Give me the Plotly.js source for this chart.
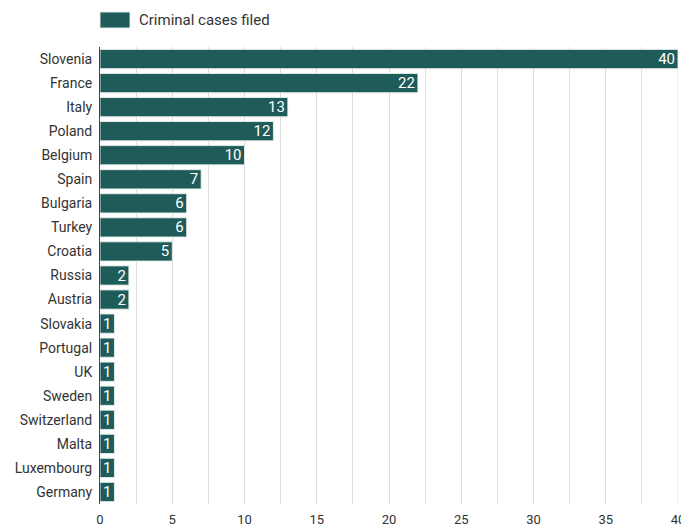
<!DOCTYPE html>
<html>
<head>
<meta charset="utf-8">
<script src="https://cdn.plot.ly/plotly-3.0.1.min.js"></script>
<style>html,body{margin:0;padding:0;background:#fff;}#chart{width:681px;height:529px;}</style>
</head>
<body>
<div id="chart"></div>
<script>
const countries = ["Slovenia","France","Italy","Poland","Belgium","Spain","Bulgaria","Turkey","Croatia","Russia","Austria","Slovakia","Portugal","UK","Sweden","Switzerland","Malta","Luxembourg","Germany"];
const cases = [40,22,13,12,10,7,6,6,5,2,2,1,1,1,1,1,1,1,1];
const seriesName = "Criminal cases filed";
const xTicks = [0,5,10,15,20,25,30,35,40];

const barColor = "#1e5b59";

const trace = {
  type: "bar",
  orientation: "h",
  y: countries,
  x: cases,
  name: seriesName,
  text: cases.map(String),
  textposition: "inside",
  insidetextanchor: "end",
  constraintext: "none",
  textangle: 0,
  insidetextfont: {family: "Roboto, sans-serif", size: 15, color: "#ffffff"},
  marker: {color: barColor, line: {color: "rgba(230,240,238,0.9)", width: 1}},
  hoverinfo: "x+y",
  showlegend: false
};

const layout = {
  width: 681, height: 529,
  margin: {l: 100, r: 3, t: 47, b: 25},
  paper_bgcolor: "#fff", plot_bgcolor: "#fff",
  font: {family: "Roboto, sans-serif", size: 13, color: "#333"},
  bargap: 0.2,
  xaxis: {
    range: [0, 40], tickvals: xTicks, ticktext: xTicks.map(String),
    showgrid: true, gridcolor: "#dcdcdc", gridwidth: 1,
    minor: {dtick: 2.5, tick0: 0, showgrid: true, gridcolor: "#dcdcdc", gridwidth: 1},
    zeroline: false, showline: false, ticks: "", ticklen: 0,
    ticklabeloverflow: "allow", ticklabelstandoff: 6,
    tickfont: {size: 13, color: "#333"}, fixedrange: true
  },
  yaxis: {
    type: "category", autorange: "reversed",
    showline: true, linecolor: "#444", linewidth: 1,
    showgrid: false, ticks: "", ticklen: 0, ticklabelstandoff: 4,
    tickfont: {size: 14, color: "#333"}, automargin: false
  },
  shapes: [{
    type: "rect", xref: "paper", yref: "paper",
    x0: 0, x1: 30/578, y0: (504-28)/457, y1: (504-12)/457,
    fillcolor: barColor, line: {color: "rgba(230,240,238,0.9)", width: 1}
  }, {
    type: "line", xref: "x", yref: "paper", x0: 40, x1: 40, y0: 0, y1: 1,
    line: {color: "#dcdcdc", width: 1}, layer: "below"
  }],
  annotations: [{
    xref: "paper", yref: "paper", x: 37/578, y: (504-20)/457,
    xanchor: "left", yanchor: "middle", showarrow: false,
    text: seriesName, font: {family: "Roboto, sans-serif", size: 15, color: "#333"}
  }]
};

Plotly.newPlot("chart", [trace], layout, {displayModeBar: false, staticPlot: true});
</script>
</body>
</html>
